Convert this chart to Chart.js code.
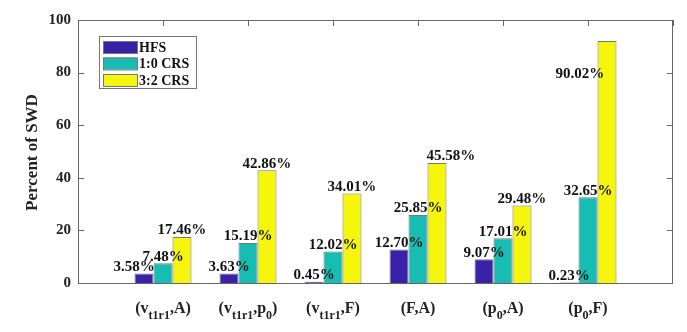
<!DOCTYPE html>
<html>
<head>
<meta charset="utf-8">
<script src="https://cdn.jsdelivr.net/npm/chart.js@4.4.1/dist/chart.umd.min.js"></script>
<style>
  html, body { margin: 0; padding: 0; background: #fff; }
  #wrap { width: 687px; height: 332px; position: relative; }
</style>
</head>
<body>
<div id="wrap"><canvas id="swdChart"></canvas></div>
<script>
// categories: [main text, subscript, tail, tail subscript]
const categories = [
  ["(v", "t1r1", ",A)", ""],
  ["(v", "t1r1", ",p", "0", ")"],
  ["(v", "t1r1", ",F)", ""],
  ["(F,A)", "", "", ""],
  ["(p", "0", ",A)", ""],
  ["(p", "0", ",F)", ""]
];
const seriesNames = ["HFS", "1:0 CRS", "3:2 CRS"];
const hfs = [3.58, 3.63, 0.45, 12.70, 9.07, 0.23];
const crs10 = [7.48, 15.19, 12.02, 25.85, 17.01, 32.65];
const crs32 = [17.46, 42.86, 34.01, 45.58, 29.48, 92.0];
const crs32Text = ["17.46%", "42.86%", "34.01%", "45.58%", "29.48%", "90.02%"];
const yTicks = [0, 20, 40, 60, 80, 100];

const colors = ["#3a22a8", "#17bdb3", "#f6f60c"];
const serif = "'Liberation Serif', 'Times New Roman', serif";

const pad = arr => [null, ...arr, null];
const labelText = (vals, i) => vals[i].toFixed(2) + "%";
const texts = [
  hfs.map((v, i) => labelText(hfs, i)),
  crs10.map((v, i) => labelText(crs10, i)),
  crs32Text
];

const framePlugin = {
  id: "frame",
  afterDatasetsDraw(chart) {
    const { ctx, chartArea: a, scales } = chart;
    ctx.save();

    // value labels
    ctx.font = "bold 15px " + serif;
    ctx.fillStyle = "#111";
    ctx.textAlign = "center";
    ctx.textBaseline = "bottom";
    chart.data.datasets.forEach((ds, d) => {
      const meta = chart.getDatasetMeta(d);
      for (let i = 1; i <= categories.length; i++) {
        const bar = meta.data[i];
        let x = bar.x, y = bar.y + 1;
        if (d === 0 && i === 1) x -= 10;
        if (d === 2 && i === 4) x += 14;
        if (d === 2 && i === 6) { x -= 27; y = scales.y.getPixelForValue(76.5); }
        ctx.fillText(texts[d][i - 1], x, y);
      }
    });

    // box and inner ticks
    ctx.strokeStyle = "#666";
    ctx.lineWidth = 1;
    ctx.strokeRect(a.left + 0.5, a.top + 0.5, a.right - a.left - 1, a.bottom - a.top);
    ctx.beginPath();
    yTicks.forEach(v => {
      const y = Math.round(scales.y.getPixelForValue(v)) + 0.5;
      ctx.moveTo(a.left, y); ctx.lineTo(a.left + 6, y);
      ctx.moveTo(a.right, y); ctx.lineTo(a.right - 6, y);
    });
    for (let i = 0; i <= categories.length + 1; i++) {
      const x = Math.round(scales.x.getPixelForValue(i)) + 0.5;
      ctx.moveTo(x, a.top); ctx.lineTo(x, a.top + 6);
    }
    ctx.stroke();

    // category labels with subscripts
    ctx.fillStyle = "#222";
    ctx.textAlign = "left";
    ctx.textBaseline = "alphabetic";
    const big = "bold 16px " + serif, small = "bold 12px " + serif;
    categories.forEach((parts, i) => {
      const pieces = parts.map((t, k) => ({ t, sub: k % 2 === 1 }));
      let w = 0;
      pieces.forEach(p => { ctx.font = p.sub ? small : big; w += ctx.measureText(p.t).width; });
      let x = scales.x.getPixelForValue(i + 1) - w / 2;
      const base = a.bottom + 30;
      pieces.forEach(p => {
        ctx.font = p.sub ? small : big;
        ctx.fillText(p.t, x, p.sub ? base + 6 : base);
        x += ctx.measureText(p.t).width;
      });
    });

    // y title
    ctx.font = "bold 17px " + serif;
    ctx.fillStyle = "#222";
    ctx.textAlign = "center";
    ctx.textBaseline = "middle";
    ctx.translate(33, (a.top + a.bottom) / 2 + 1);
    ctx.rotate(-Math.PI / 2);
    ctx.fillText("Percent of SWD", 0, 0);
    ctx.setTransform(1, 0, 0, 1, 0, 0);

    // legend
    ctx.fillStyle = "#fff";
    ctx.fillRect(99, 36, 97, 52);
    ctx.strokeStyle = "#777";
    ctx.strokeRect(99.5, 36.5, 97, 52);
    ctx.font = "bold 14px " + serif;
    ctx.textAlign = "left";
    ctx.textBaseline = "middle";
    seriesNames.forEach((name, k) => {
      const y = 41 + k * 16.5;
      ctx.fillStyle = colors[k];
      ctx.fillRect(103, y, 34, 12);
      ctx.strokeStyle = "#777";
      ctx.strokeRect(103.5, y + 0.5, 34, 12);
      ctx.fillStyle = "#111";
      ctx.fillText(name, 139, y + 7);
    });

    ctx.restore();
  }
};

new Chart(document.getElementById("swdChart"), {
  type: "bar",
  data: {
    labels: pad(categories.map(c => c.join(""))).map(v => v || ""),
    datasets: [hfs, crs10, crs32].map((vals, k) => ({
      label: seriesNames[k],
      data: pad(vals),
      backgroundColor: colors[k],
      borderColor: "#777",
      borderWidth: 1,
      categoryPercentage: 0.67,
      barPercentage: 1.0
    }))
  },
  plugins: [framePlugin],
  options: {
    responsive: true,
    maintainAspectRatio: false,
    animation: false,
    layout: { padding: { top: 20, right: 14, left: 0, bottom: 0 } },
    plugins: {
      legend: { display: false },
      tooltip: { enabled: false }
    },
    scales: {
      x: {
        offset: false,
        grid: { display: false },
        border: { display: false },
        ticks: { display: false },
        afterFit: s => { s.height = 49; }
      },
      y: {
        min: 0,
        max: 100,
        grid: { display: false, drawTicks: false },
        border: { display: false },
        afterBuildTicks: s => { s.ticks = yTicks.map(v => ({ value: v })); },
        ticks: {
          padding: 7,
          color: "#222",
          font: { family: serif, size: 15, weight: "bold" }
        },
        afterFit: s => { s.width = 78; }
      }
    }
  }
});
</script>
</body>
</html>
